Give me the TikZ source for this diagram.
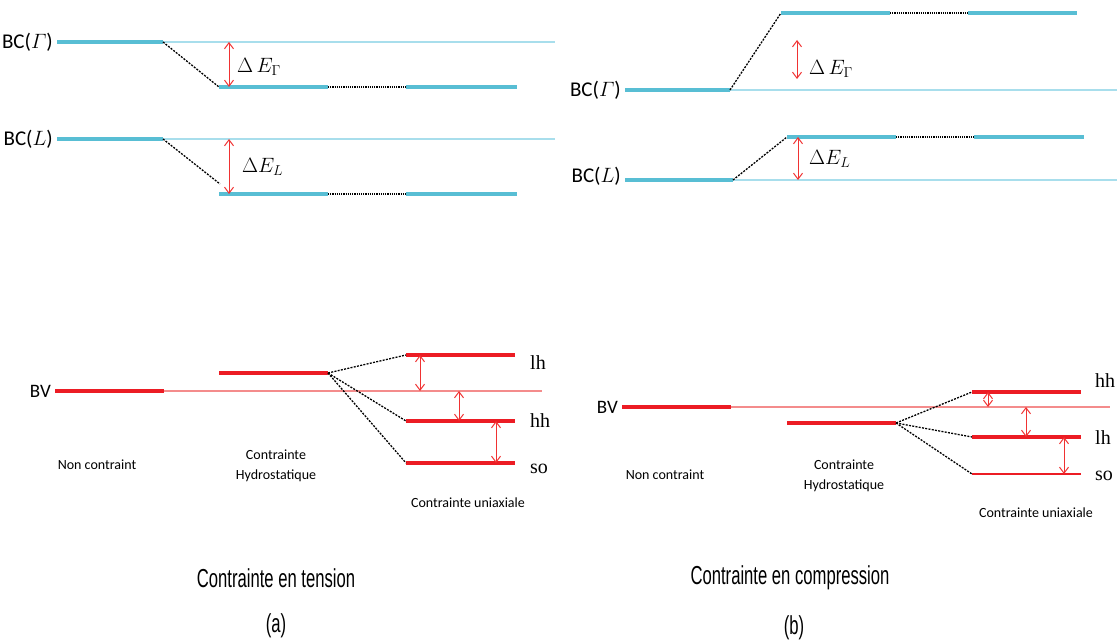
\documentclass[tikz,border=0pt]{standalone}
\usepackage{amsmath}
\usepackage{fontspec}
\setmainfont{Carlito}
\newfontfamily\policeTimes{Liberation Serif}
\newfontfamily\policeEtroite[FakeStretch=0.64]{Liberation Sans}
\usetikzlibrary{arrows.meta}

\definecolor{cyanfonce}{RGB}{88,190,212}
\definecolor{cyanclair}{RGB}{168,222,236}
\definecolor{rougefonce}{RGB}{236,28,36}
\definecolor{rougeclair}{RGB}{244,140,140}
\definecolor{rougefleche}{RGB}{240,50,50}

\tikzset{
  nivC/.style={line width=4pt, color=cyanfonce},
  refC/.style={line width=1.2pt, color=cyanclair},
  nivV/.style={line width=4.5pt, color=rougefonce},
  refV/.style={line width=1.2pt, color=rougeclair},
  tirets/.style={line width=1.3pt, dash pattern=on 2pt off 1.3pt},
  pointille/.style={line width=1.6pt, dash pattern=on 1.2pt off 1pt},
  fleche/.style={{Straight Barb[length=6pt,width=9pt]}-{Straight Barb[length=6pt,width=9pt]},
    line width=1pt, color=rougefleche},
  bande/.style={font=\fontsize{21}{24}\selectfont, inner sep=4pt},
  ecart/.style={font=\fontsize{21}{24}\selectfont, anchor=west, inner sep=0pt},
  sousbande/.style={font=\policeTimes\fontsize{20}{24}\selectfont, anchor=base west, inner sep=0pt},
  legende/.style={font=\fontsize{14}{20}\selectfont, align=center},
  titre/.style={font=\policeEtroite\fontsize{26}{30}\selectfont},
}

\begin{document}
\begin{tikzpicture}[x=1pt, y=-1pt]
        \useasboundingbox (0,0) rectangle (1117,644);

        % (a) bande de conduction
        \node[bande, left] (aBCG) at (57,42) {BC($\varGamma$)};
        \draw[nivC] (57,42) coordinate (aG0) -- (163,42) coordinate (aG1);
        \draw[refC] (aG1) -- (555,42) coordinate (aGf);
        \draw[nivC] (219,87) coordinate (aGh) -- (328,87) coordinate (aGh1);
        \draw[pointille] (aGh1) -- (406,87) coordinate (aGu);
        \draw[nivC] (aGu) -- (517,87) coordinate (aGu1);
        \draw[tirets] (aG1) -- (aGh);
        \draw[fleche] ([xshift=10pt]aGh |- aG0) -- ([xshift=10pt]aGh);
        \node[ecart] (aDG) at (237,67) {$\Delta\,E_\Gamma$};

        \node[bande, left] (aBCL) at (57,139) {BC($L$)};
        \draw[nivC] (57,139) coordinate (aL0) -- (163,139) coordinate (aL1);
        \draw[refC] (aL1) -- (555,139) coordinate (aLf);
        \draw[nivC] (219,194) coordinate (aLh) -- (328,194) coordinate (aLh1);
        \draw[pointille] (aLh1) -- (406,194) coordinate (aLu);
        \draw[nivC] (aLu) -- (517,194) coordinate (aLu1);
        \draw[tirets] (aL1) -- (220,184) coordinate (aLt);
        \draw[fleche] ([xshift=10pt]aLh |- aL0) -- ([xshift=10pt]aLh);
        \node[ecart] (aDL) at (242,167) {$\Delta E_L$};

        % (b) bande de conduction
        \node[bande, left] (bBCG) at (625,90) {BC($\varGamma$)};
        \draw[nivC] (625,90) coordinate (bG0) -- (730,90) coordinate (bG1);
        \draw[refC] (bG1) -- (1117,90) coordinate (bGf);
        \draw[nivC] (781,13) coordinate (bGh) -- (890,13) coordinate (bGh1);
        \draw[pointille] (bGh1) -- (968,13) coordinate (bGu);
        \draw[nivC] (bGu) -- (1077,13) coordinate (bGu1);
        \draw[tirets] (bG1) -- (bGh);
        \draw[fleche] (797,40) coordinate (bGa) -- (797,79) coordinate (bGb);
        \node[ecart] (bDG) at (809,69) {$\Delta\,E_\Gamma$};

        \node[bande, left] (bBCL) at (625,176) {BC($L$)};
        \draw[nivC] (625,180) coordinate (bL0) -- (733,180) coordinate (bL1);
        \draw[refC] (bL1) -- (1117,180) coordinate (bLf);
        \draw[nivC] (787,137) coordinate (bLh) -- (896,137) coordinate (bLh1);
        \draw[pointille] (bLh1) -- (974,137) coordinate (bLu);
        \draw[nivC] (bLu) -- (1084,137) coordinate (bLu1);
        \draw[tirets] (bL1) -- (bLh);
        \draw[fleche] ([xshift=11pt]bLh) -- ([xshift=11pt]bLh |- bL0);
        \node[ecart] (bDL) at (809,159) {$\Delta E_L$};

        % (a) bande de valence
        \node[bande, left, font=\fontsize{19}{22}\selectfont] (aBV) at (55,391) {BV};
        \draw[nivV] (55,391) coordinate (aV0) -- (164,391) coordinate (aV1);
        \draw[refV] (aV1) -- (542,391) coordinate (aVf);
        \draw[nivV] (219,373) coordinate (aH0) -- (328,373) coordinate (aH1);
        \foreach \nom/\y/\yb in {lh/355/370, hh/421/427, so/463/473} {
                \draw[nivV] (406,\y) coordinate (a\nom) -- (515,\y) coordinate (a\nom1);
                \draw[tirets] (aH1) -- (a\nom);
                \node[sousbande] (at\nom) at (530,\yb) {\nom};
        }
        \draw[fleche] (420,355) -- (420,391);
        \draw[fleche] (459,391) -- (459,421);
        \draw[fleche] (496,421) -- (496,463);

        \node[legende] (aNC) at (97,465) {Non contraint};
        \node[legende] (aCH) at (276,466) {Contrainte\\Hydrostatique};
        \node[legende] (aCU) at (468,503) {Contrainte uniaxiale};

        % (b) bande de valence
        \node[bande, left, font=\fontsize{19}{22}\selectfont] (bBV) at (622,407) {BV};
        \draw[nivV] (622,407) coordinate (bV0) -- (731,407) coordinate (bV1);
        \draw[refV] (bV1) -- (1110,407) coordinate (bVf);
        \draw[nivV] (787,423) coordinate (bH0) -- (896,423) coordinate (bH1);
        \foreach \nom/\y/\yb in {hh/392/388, lh/437/444} {
                \draw[nivV] (972,\y) coordinate (b\nom) -- (1081,\y) coordinate (b\nom1);
                \draw[tirets] (bH1) -- (b\nom);
                \node[sousbande] (bt\nom) at (1095,\yb) {\nom};
        }
        \draw[nivV, line width=2pt] (972,474) coordinate (bso) -- (1081,474) coordinate (bso1);
        \draw[tirets] (bH1) -- (bso);
        \node[sousbande] (btso) at (1095,480) {so};
        \draw[fleche] (988,392) -- (988,407);
        \draw[fleche] (1026,407) -- (1026,437);
        \draw[fleche] (1064,437) -- (1064,474);

        \node[legende] (bNC) at (665,475) {Non contraint};
        \node[legende] (bCH) at (844,476) {Contrainte\\Hydrostatique};
        \node[legende] (bCU) at (1036,513) {Contrainte uniaxiale};

        % titres
        \node[titre] (tA) at (276,578) {Contrainte en tension};
        \node[titre] (pA) at (276,626) {(a)};
        \node[titre] (tB) at (790,578) {Contrainte en compression};
        \node[titre] (pB) at (794,628) {(b)};
\end{tikzpicture}
\end{document}
